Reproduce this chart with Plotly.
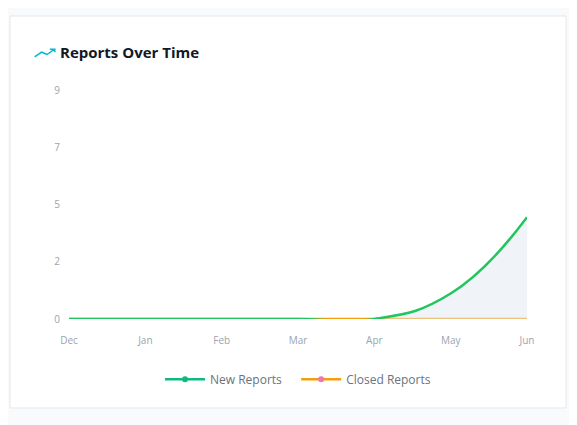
import plotly.graph_objects as go

months = ["Dec", "Jan", "Feb", "Mar", "Apr", "May", "Jun"]
new_reports = [0, 0, 0, 0, 0, 1, 4]
closed_reports = [0, 0, 0, 0, 0, 0, 0]
tick_vals = [0, 2.25, 4.5, 6.75, 9]
tick_text = ["0", "2", "5", "7", "9"]

fig = go.Figure()
fig.add_trace(go.Scatter(x=months, y=closed_reports, mode="lines", line=dict(color="#f59e0b", width=2.5),
                         showlegend=False, hoverinfo="skip"))
fig.add_trace(go.Scatter(x=months, y=new_reports, mode="lines", line=dict(color="#22c55e", width=2.5, shape="spline", smoothing=1.3),
                         fill="tozeroy", fillcolor="rgba(226,232,240,0.5)", showlegend=False, hoverinfo="skip"))
fig.add_trace(go.Scatter(x=[None], y=[None], mode="lines+markers", name="New Reports   ",
                         line=dict(color="#10b981", width=2.5), marker=dict(color="#10b981", size=6)))
fig.add_trace(go.Scatter(x=[None], y=[None], mode="lines+markers", name="Closed Reports",
                         line=dict(color="#f59e0b", width=2.5), marker=dict(color="#f472b6", size=6)))

fig.update_layout(
    width=569, height=417, paper_bgcolor="#f8fafc", plot_bgcolor="white",
    margin=dict(l=61, r=50, t=82, b=106),
    font=dict(family="Open Sans", size=11, color="#9ca3af"),
    xaxis=dict(showgrid=False, zeroline=False, showline=False, range=[0, 6], ticks="", tickfont=dict(size=10),
               ticklabelstandoff=14),
    yaxis=dict(showgrid=False, zeroline=False, range=[0, 9], tickvals=tick_vals, ticktext=tick_text,
               tickfont=dict(size=10), ticklabelstandoff=8),
    legend=dict(orientation="h", x=0.5, xanchor="center", y=-0.2, yanchor="top",
                font=dict(size=12, color="#6b7280"), itemwidth=40, bgcolor="rgba(0,0,0,0)"),
    shapes=[
        dict(type="rect", xref="paper", yref="paper", layer="below",
             x0=-59/458, x1=497/458, y0=-89/229, y1=1+74/229,
             fillcolor="white", line=dict(color="#e5e7eb", width=1)),
        dict(type="path", xref="paper", yref="paper",
             path="M -0.075 1.145 L -0.06 1.165 L -0.048 1.155 L -0.031 1.178 M -0.042 1.178 L -0.031 1.178 L -0.031 1.165",
             line=dict(color="#06b6d4", width=1.5)),
    ],
    annotations=[dict(text="<b>Reports Over Time</b>", xref="paper", yref="paper", x=-0.025, y=1.165,
                      xanchor="left", yanchor="middle", showarrow=False,
                      font=dict(size=15, color="#111827", family="Open Sans"))],
)
fig.write_html("out.html")
